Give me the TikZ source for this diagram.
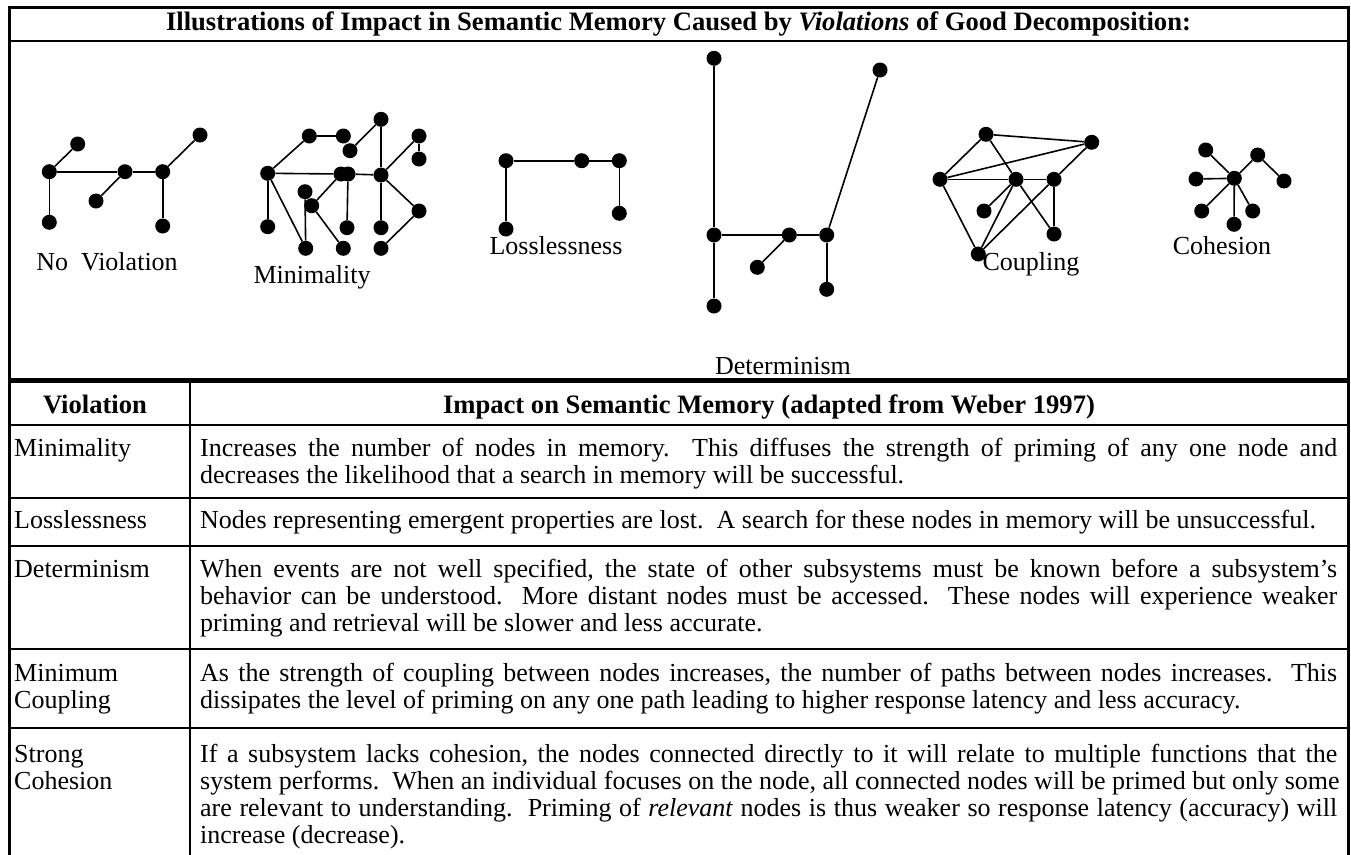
\documentclass[tikz,border=0pt]{standalone}
\usepackage{fontspec}
\setmainfont{Liberation Serif}
\frenchspacing
\newcommand\natsp{\spaceskip=0pt\xspaceskip=0pt\relax}
\newcommand\jline[1]{\makebox[1137pt][s]{\spaceskip=0.25em plus 2em\xspaceskip=0.25em plus 2em\relax #1}}
\begin{document}
\begin{tikzpicture}[x=1pt,y=-1pt,
  dot/.style={circle,fill=black,inner sep=0pt,minimum size=15pt},
  link/.style={line width=1.6pt},
  txt/.style={font=\fontsize{26}{27}\selectfont, inner sep=0pt},
  hdr/.style={font=\bfseries\fontsize{26.6}{27}\selectfont, inner sep=0pt, anchor=base},
  lbl/.style={txt, anchor=center},
  cell/.style={txt, anchor=base west, align=left, text width=1137pt},
  vcell/.style={txt, anchor=base west, align=left, text width=170pt},
  border/.style={line width=3pt},
  rule/.style={line width=2pt},
  thickrule/.style={line width=5pt}]
\useasboundingbox (0,0) rectangle (1351,854);
% ---------- frame ----------
\draw[border] (9.5,856) -- (9.5,7.5) -- (1348.5,7.5) -- (1348.5,856);
\draw[rule] (9.5,40.5) -- (1348.5,40.5);
\draw[thickrule] (9.5,380.5) -- (1348.5,380.5);
\draw[rule] (190,383) -- (190,856);
\foreach \yy in {424.5,498,546,649,728} \draw[rule] (9.5,\yy) -- (1348.5,\yy);
% ---------- title ----------
\node[hdr] (title) at (678.5,30) {Illustrations of Impact in Semantic Memory Caused by \textit{Violations} of Good Decomposition:};
% ---------- No violation ----------
\foreach \n/\p in {nvA/{49.3,171.7},nvB/{77.7,144},nvC/{49.3,222.3},nvD/{125,171.7},nvE/{96,201},nvF/{162.7,171.7},nvG/{200,135},nvH/{162.7,226}}
  \node[dot] (\n) at (\p) {};
\foreach \a/\b in {nvA/nvB,nvA/nvC,nvA/nvD,nvD/nvE,nvD/nvF,nvF/nvG,nvF/nvH}
  \draw[link] (\a) -- (\b);
\node[lbl] (lnv) at (107,262) {No\ \ Violation};
% ---------- Minimality ----------
\foreach \n/\p in {mnA/{267.7,173.3},mnB/{309.3,136},mnC/{343.3,136},mnD/{350,150.7},mnE/{381,119.3},mnF/{419,136},mnG/{419,159},mnH/{341,174},mnHb/{348,174},mnI/{381,175},mnJ/{305,191.7},mnK/{311.7,205.7},mnL/{419,211},mnM/{267.7,226.7},mnN/{305.7,248.3},mnO/{343.3,248.3},mnP/{347,227.7},mnQ/{381,227.7},mnR/{381,248.3}}
  \node[dot] (\n) at (\p) {};
\foreach \a/\b in {mnA/mnB,mnB/mnC,mnD/mnE,mnE/mnI,mnF/mnG,mnF/mnI,mnA/mnH,mnHb/mnI,mnA/mnM,mnA/mnN,mnH/mnK,mnK/mnO,mnJ/mnN,mnHb/mnP,mnI/mnQ,mnI/mnL,mnL/mnR}
  \draw[link] (\a) -- (\b);
\node[lbl] (lmn) at (312,277) {Minimality};
% ---------- Losslessness ----------
\foreach \n/\p in {lsA/{506,160.7},lsB/{581.7,160.7},lsC/{619.3,160.7},lsD/{619.3,213.3},lsE/{506,229}}
  \node[dot] (\n) at (\p) {};
\foreach \a/\b in {lsA/lsB,lsB/lsC,lsC/lsD,lsA/lsE}
  \draw[link] (\a) -- (\b);
\node[lbl] (lls) at (556,246) {Losslessness};
% ---------- Determinism ----------
\foreach \n/\p in {dtT/{714,58.3},dtTR/{880,70},dtML/{714,235},dtM/{789.3,235},dtR/{826.7,235},dtLo/{757.3,267.3},dtRL/{826.7,289.3},dtB/{714,306}}
  \node[dot] (\n) at (\p) {};
\foreach \a/\b in {dtT/dtML,dtML/dtB,dtML/dtM,dtM/dtR,dtM/dtLo,dtR/dtRL,dtR/dtTR}
  \draw[link] (\a) -- (\b);
\node[lbl] (ldt) at (783,366) {Determinism};
% ---------- Coupling ----------
\foreach \n/\p in {cpA/{986,134.3},cpB/{1091.7,142.3},cpC/{940,179.3},cpD/{1016,179.3},cpE/{1054,179.3},cpF/{984,211},cpG/{1054,234},cpH/{978.3,254}}
  \node[dot] (\n) at (\p) {};
\foreach \a/\b in {cpA/cpB,cpA/cpC,cpA/cpD,cpD/cpG,cpC/cpB,cpC/cpD,cpD/cpE,cpE/cpB,cpC/cpH,cpH/cpD,cpD/cpF,cpH/cpE,cpE/cpG}
  \draw[link] (\a) -- (\b);
\node[lbl] (lcp) at (1031,264) {Coupling};
% ---------- Cohesion ----------
\foreach \n/\p in {chO/{1234.3,178.3},chTL/{1205.7,150},chL/{1196,179},chBL/{1201.7,211},chB/{1234,224.3},chBR/{1252.7,211},chTR/{1257.7,155},chR/{1284,181}}
  \node[dot] (\n) at (\p) {};
\foreach \a/\b in {chO/chTL,chO/chL,chO/chBL,chO/chB,chO/chBR,chO/chTR,chTR/chR}
  \draw[link] (\a) -- (\b);
\node[lbl] (lch) at (1222,246) {Cohesion};
% ---------- table header ----------
\node[hdr] (hv) at (95,413) {Violation};
\node[hdr] (hi) at (769,413) {Impact on Semantic Memory (adapted from Weber 1997)};
% ---------- rows ----------
\node[vcell] (v1) at (14,456) {\natsp Minimality};
\node[cell] (c1) at (200,456) {\natsp\jline{Increases the number of nodes in memory.\ \ This diffuses the strength of priming of any one node and}\\decreases the likelihood that a search in memory will be successful.};
\node[vcell] (v2) at (14,528) {\natsp Losslessness};
\node[cell] (c2) at (200,528) {\natsp Nodes representing emergent properties are lost.\ \ A search for these nodes in memory will be unsuccessful.};
\node[vcell] (v3) at (14,577) {\natsp Determinism};
\node[cell] (c3) at (200,577) {\natsp\jline{When events are not well specified, the state of other subsystems must be known before a subsystem’s}\\\jline{behavior can be understood.\ \ More distant nodes must be accessed.\ \ These nodes will experience weaker}\\priming and retrieval will be slower and less accurate.};
\node[vcell] (v4) at (14,681) {\natsp Minimum\\Coupling};
\node[cell] (c4) at (200,681) {\natsp\jline{As the strength of coupling between nodes increases, the number of paths between nodes increases.\ \ This}\\dissipates the level of priming on any one path leading to higher response latency and less accuracy.};
\node[vcell] (v5) at (14,762) {\natsp Strong\\Cohesion};
\node[cell] (c5) at (200,762) {\natsp\jline{If a subsystem lacks cohesion, the nodes connected directly to it will relate to multiple functions that the}\\\jline{system performs.\ \ When an individual focuses on the node, all connected nodes will be primed but only some}\\\jline{are relevant to understanding.\ \ Priming of \textit{relevant} nodes is thus weaker so response latency (accuracy) will}\\increase (decrease).};
\end{tikzpicture}
\end{document}
